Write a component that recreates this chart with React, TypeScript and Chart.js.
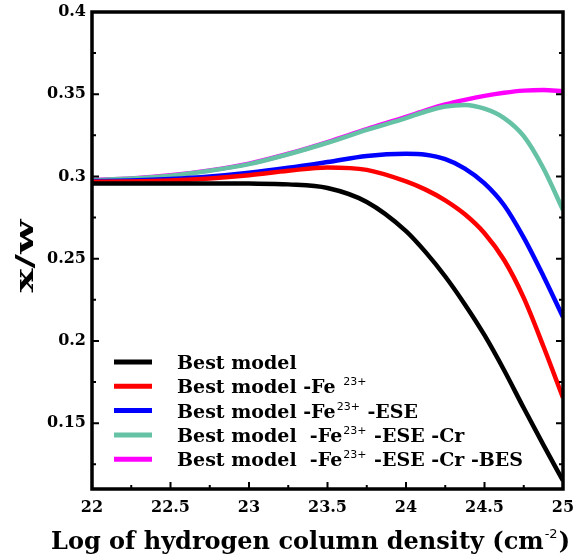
import React, { useEffect, useRef } from "react";
import { Chart, registerables } from "chart.js";

Chart.register(...registerables);

// ---- data ----
const X_VALUES = [22, 22.25, 22.5, 22.75, 23, 23.25, 23.5, 23.75, 24, 24.125, 24.25, 24.375, 24.5, 24.625, 24.75, 24.875, 25];
const BEST_MODEL = [0.2958, 0.2958, 0.2958, 0.2958, 0.2957, 0.2952, 0.293, 0.2845, 0.2668, 0.254, 0.2392, 0.2222, 0.2035, 0.1822, 0.1592, 0.1368, 0.115];
const MINUS_FE = [0.2968, 0.297, 0.2976, 0.2988, 0.3008, 0.3035, 0.3055, 0.304, 0.297, 0.292, 0.2855, 0.277, 0.2655, 0.2492, 0.2262, 0.1968, 0.1655];
const MINUS_ESE = [0.2972, 0.2976, 0.2985, 0.3, 0.3023, 0.3053, 0.3088, 0.3125, 0.3138, 0.3132, 0.3105, 0.3048, 0.2958, 0.2825, 0.2628, 0.2395, 0.2145];
const MINUS_CR = [0.2978, 0.2987, 0.3005, 0.3035, 0.3075, 0.3135, 0.3205, 0.3283, 0.3355, 0.3395, 0.3425, 0.3435, 0.3412, 0.3355, 0.3245, 0.305, 0.2796];
const MINUS_BES = [0.2979, 0.2988, 0.3007, 0.3037, 0.3078, 0.3138, 0.3209, 0.3288, 0.3362, 0.3402, 0.3438, 0.3466, 0.349, 0.3509, 0.3522, 0.3526, 0.3518];

const X_TICKS = [22, 22.5, 23, 23.5, 24, 24.5, 25];
const X_MINOR = [22.25, 22.75, 23.25, 23.75, 24.25, 24.75];
const Y_TICKS = [0.15, 0.2, 0.25, 0.3, 0.35, 0.4];
const Y_MINOR = [0.125, 0.175, 0.225, 0.275, 0.325, 0.375];

const SERIES_NAMES = [
  "Best model",
  "Best model -Fe 23+",
  "Best model -Fe23+ -ESE",
  "Best model  -Fe23+ -ESE -Cr",
  "Best model  -Fe23+ -ESE -Cr -BES",
];
// legend labels split into (text, superscript) parts
const LEGEND_PARTS: { t: string; sup?: boolean }[][] = [
  [{ t: "Best model" }],
  [{ t: "Best model -Fe " }, { t: "23+", sup: true }],
  [{ t: "Best model -Fe" }, { t: "23+", sup: true }, { t: " -ESE" }],
  [{ t: "Best model  -Fe" }, { t: "23+", sup: true }, { t: " -ESE -Cr" }],
  [{ t: "Best model  -Fe" }, { t: "23+", sup: true }, { t: " -ESE -Cr -BES" }],
];
const COLORS = ["#000000", "#ff0000", "#0000ff", "#66c2a5", "#ff00ff"];
const SERIES = [BEST_MODEL, MINUS_FE, MINUS_ESE, MINUS_CR, MINUS_BES];

const X_TITLE = "Log of hydrogen column density (cm";
const X_TITLE_SUP = "-2";
const Y_TITLE = "x/w";

const SERIF = "'DejaVu Serif', serif";

const framePlugin = {
  id: "frameAndLegend",
  afterDraw(chart: any) {
    const { ctx, chartArea } = chart;
    const { left, top, right, bottom } = chartArea;
    const xs = chart.scales.x;
    const ys = chart.scales.y;
    ctx.save();
    ctx.strokeStyle = "#000";
    // ticks
    ctx.lineWidth = 2;
    ctx.beginPath();
    X_TICKS.forEach((v) => {
      const p = xs.getPixelForValue(v);
      ctx.moveTo(p, bottom);
      ctx.lineTo(p, bottom - 7);
    });
    X_MINOR.forEach((v) => {
      const p = xs.getPixelForValue(v);
      ctx.moveTo(p, bottom);
      ctx.lineTo(p, bottom - 4);
    });
    Y_TICKS.forEach((v) => {
      const p = ys.getPixelForValue(v);
      ctx.moveTo(left, p);
      ctx.lineTo(left + 7, p);
      ctx.moveTo(right, p);
      ctx.lineTo(right - 7, p);
    });
    Y_MINOR.forEach((v) => {
      const p = ys.getPixelForValue(v);
      ctx.moveTo(left, p);
      ctx.lineTo(left + 4, p);
      ctx.moveTo(right, p);
      ctx.lineTo(right - 4, p);
    });
    ctx.stroke();
    // frame
    ctx.lineWidth = 3.5;
    ctx.strokeRect(left, top, right - left, bottom - top);

    // legend
    const rowY0 = bottom - 127;
    const rowStep = 24.3;
    LEGEND_PARTS.forEach((parts, i) => {
      const ry = rowY0 + i * rowStep;
      ctx.strokeStyle = COLORS[i];
      ctx.lineWidth = 5;
      ctx.beginPath();
      ctx.moveTo(left + 22, ry);
      ctx.lineTo(left + 60, ry);
      ctx.stroke();
      let tx = left + 85;
      ctx.fillStyle = "#000";
      ctx.textAlign = "left";
      ctx.textBaseline = "alphabetic";
      parts.forEach((p) => {
        if (p.sup) {
          ctx.font = "11px 'DejaVu Sans', sans-serif";
          ctx.fillText(p.t, tx + 1, ry - 1);
          tx += ctx.measureText(p.t).width + 2;
        } else {
          ctx.font = `bold 19px ${SERIF}`;
          ctx.fillText(p.t, tx, ry + 7);
          tx += ctx.measureText(p.t).width;
        }
      });
    });

    // x title
    ctx.fillStyle = "#000";
    ctx.font = `bold 24px ${SERIF}`;
    const w1 = ctx.measureText(X_TITLE).width;
    ctx.font = `13px 'DejaVu Sans', sans-serif`;
    const w2 = ctx.measureText(X_TITLE_SUP).width;
    ctx.font = `bold 24px ${SERIF}`;
    const w3 = ctx.measureText(")").width;
    const total = w1 + w2 + w3 + 2;
    const k = 519 / total;
    ctx.save();
    ctx.translate(51, 549);
    ctx.scale(k, 1);
    ctx.textAlign = "left";
    ctx.textBaseline = "alphabetic";
    ctx.font = `bold 24px ${SERIF}`;
    ctx.fillText(X_TITLE, 0, 0);
    ctx.font = `13px 'DejaVu Sans', sans-serif`;
    ctx.fillText(X_TITLE_SUP, w1 + 1, -11);
    ctx.font = `bold 24px ${SERIF}`;
    ctx.fillText(")", w1 + w2 + 2, 0);
    ctx.restore();

    // y title
    ctx.save();
    ctx.translate(33, 256);
    ctx.rotate(-Math.PI / 2);
    ctx.font = `bold 25px ${SERIF}`;
    const wy = ctx.measureText(Y_TITLE).width;
    ctx.scale(73 / wy, 1);
    ctx.textAlign = "center";
    ctx.textBaseline = "alphabetic";
    ctx.fillText(Y_TITLE, 0, 0);
    ctx.restore();

    ctx.restore();
  },
};

export default function App() {
  const ref = useRef<HTMLCanvasElement | null>(null);
  useEffect(() => {
    if (!ref.current) return;
    const chart = new Chart(ref.current, {
      type: "line",
      data: {
        datasets: SERIES.map((vals, i) => ({
          label: SERIES_NAMES[i],
          data: X_VALUES.map((x, j) => ({ x, y: vals[j] })),
          borderColor: COLORS[i],
          backgroundColor: COLORS[i],
          borderWidth: 4.5,
          pointRadius: 0,
          fill: false,
          cubicInterpolationMode: "monotone" as const,
        })),
      },
      options: {
        responsive: false,
        animation: false,
        layout: { padding: { left: 0, right: 10, top: 12, bottom: 0 } },
        plugins: { legend: { display: false }, tooltip: { enabled: false } },
        scales: {
          x: {
            type: "linear",
            min: 22,
            max: 25,
            grid: { display: false, drawTicks: false },
            border: { display: false },
            afterBuildTicks: (s: any) => {
              s.ticks = X_TICKS.map((v) => ({ value: v }));
            },
            afterFit: (s: any) => {
              s.height = 65;
              s.paddingLeft = 0;
              s.paddingRight = 0;
            },
            ticks: {
              padding: 9,
              color: "#000",
              font: { family: SERIF, size: 16, weight: "bold" },
              maxRotation: 0,
              autoSkip: false,
              callback: (v: any) => String(v),
            },
          },
          y: {
            type: "linear",
            min: 0.11,
            max: 0.4,
            grid: { display: false, drawTicks: false },
            border: { display: false },
            afterBuildTicks: (s: any) => {
              s.ticks = Y_TICKS.map((v) => ({ value: v }));
            },
            afterFit: (s: any) => {
              s.width = 92;
              s.paddingTop = 0;
              s.paddingBottom = 0;
            },
            ticks: {
              padding: 6,
              color: "#000",
              font: { family: SERIF, size: 16, weight: "bold" },
              autoSkip: false,
              callback: (v: any) => String(v),
            },
          },
        },
      },
      plugins: [framePlugin],
    });
    return () => chart.destroy();
  }, []);
  return (
    <div style={{ position: "fixed", left: 0, top: 0, width: 573, height: 554, background: "#fff" }}>
      <canvas ref={ref} width={573} height={554} style={{ display: "block" }} />
    </div>
  );
}
